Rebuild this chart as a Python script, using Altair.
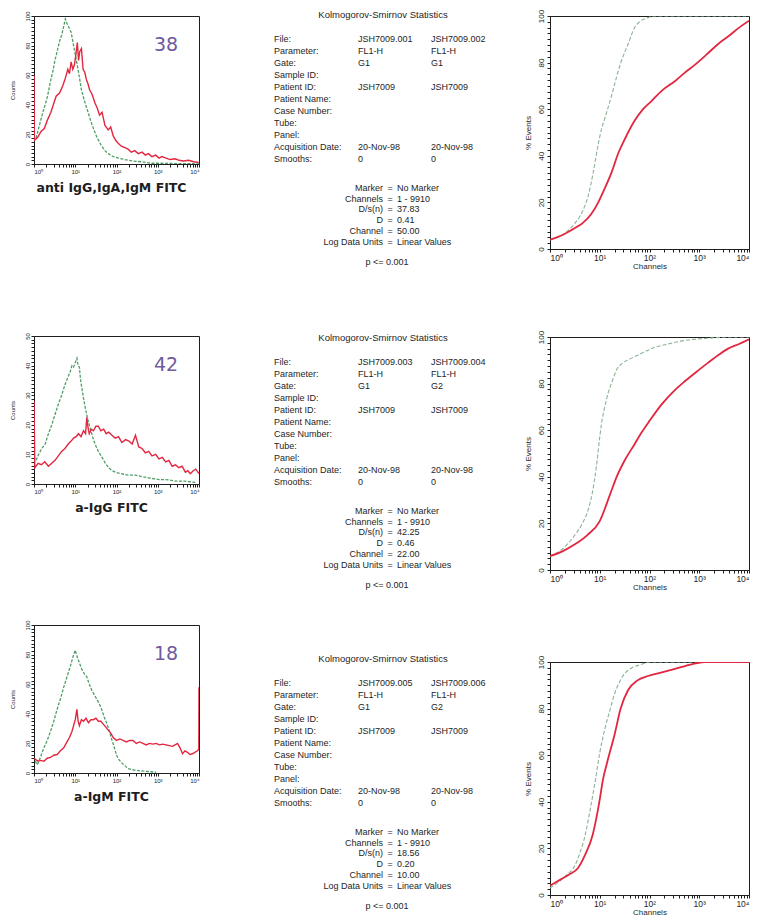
import altair as alt
import pandas as pd

# ---------------- text content ----------------
hist_titles = ["anti IgG,IgA,IgM FITC", "a-IgG FITC", "a-IgM FITC"]
hist_ymax = [100, 50, 100]
ks_percent = ["38", "42", "18"]

file_a = ["JSH7009.001", "JSH7009.003", "JSH7009.005"]
file_b = ["JSH7009.002", "JSH7009.004", "JSH7009.006"]
param_a = ["FL1-H", "FL1-H", "FL1-H"]
param_b = ["FL1-H", "FL1-H", "FL1-H"]
gate_a = ["G1", "G1", "G1"]
gate_b = ["G1", "G2", "G2"]
patient_id = ["JSH7009", "JSH7009", "JSH7009"]
acq_date = ["20-Nov-98", "20-Nov-98", "20-Nov-98"]
smooths = ["0", "0", "0"]
dsn_vals = ["37.83", "42.25", "18.56"]
d_vals = ["0.41", "0.46", "0.20"]
chan_vals = ["50.00", "22.00", "10.00"]
p_text = "p <= 0.001"
ks_title = "Kolmogorov-Smirnov Statistics"
upper_labels = ["File:", "Parameter:", "Gate:", "Sample ID:", "Patient ID:", "Patient Name:",
                "Case Number:", "Tube:", "Panel:", "Acquisition Date:", "Smooths:"]
lower_labels = ["Marker", "Channels", "D/s(n)", "D", "Channel", "Log Data Units"]

# ---------------- histogram data (x: log10 channel, y: counts) ----------------
h1_green_d = [0.05, 0.13, 0.21, 0.27, 0.33, 0.40, 0.46, 0.50, 0.56, 0.62, 0.67, 0.72, 0.76, 0.80, 0.85,
              0.90, 0.96, 1.02, 1.08, 1.15, 1.22, 1.31, 1.40, 1.51, 1.62, 1.72, 1.80, 1.92, 2.05, 2.2,
              2.4, 2.6, 2.85, 3.1, 3.4, 3.7, 4.0]
h1_green_c = [17.5, 26, 34.5, 40, 46, 56, 63, 69, 76, 83, 87, 93, 98, 95, 92,
              89, 80, 71, 62, 50, 43, 35, 27, 19, 13, 9, 7, 5, 4, 3,
              2, 1.5, 0.5, 0.5, 0.3, 0.2, 0.1]
h1_red_d = [0, 0.01, 0.09, 0.17, 0.25, 0.33, 0.41, 0.48, 0.54, 0.62, 0.70, 0.76, 0.82, 0.86, 0.90,
            0.94, 0.98, 1.02, 1.05, 1.08, 1.11, 1.15, 1.19, 1.23, 1.27, 1.31, 1.35, 1.41, 1.48, 1.53,
            1.59, 1.65, 1.72, 1.80, 1.86, 1.92, 1.98, 2.04, 2.12, 2.2, 2.28, 2.36, 2.44, 2.53, 2.62,
            2.7, 2.77, 2.86, 2.95, 3.03, 3.1, 3.2, 3.3, 3.42, 3.52, 3.62, 3.75, 3.87, 3.99]
h1_red_c = [60, 16, 18, 22, 24, 30, 35, 41, 46, 48, 53, 58, 64, 61, 69,
            64, 67, 75, 82, 70, 76, 78, 64, 62, 57, 54, 50, 47, 41, 38,
            33, 35, 26, 23, 25, 19, 16, 14, 12, 11, 10, 8, 9, 7, 8,
            6, 7, 5, 6, 4, 5, 4, 3, 3.5, 2.5, 2, 2.5, 1.5, 1]

h2_green_d = [0.05, 0.11, 0.19, 0.27, 0.35, 0.43, 0.51, 0.59, 0.67, 0.75, 0.82, 0.88, 0.92, 0.96, 1.0,
              1.04, 1.07, 1.1, 1.13, 1.16, 1.2, 1.24, 1.3, 1.36, 1.42, 1.48, 1.56, 1.65, 1.73, 1.81,
              1.89, 1.97, 2.1, 2.3, 2.45, 2.62, 2.8, 3.03, 3.2, 3.43, 3.65, 3.92]
h2_green_c = [8, 10, 12, 13.5, 17, 20, 23.5, 27, 30, 33.5, 36, 38, 40, 39.5, 41,
              42.5, 40, 39.5, 35, 32.5, 29, 26, 22, 19, 16, 13.5, 11, 9, 7, 5.5,
              4.5, 4, 3.5, 3, 3, 2.5, 2, 1.5, 1.5, 1, 1, 0.5]
h2_red_d = [0, 0.02, 0.1, 0.18, 0.26, 0.35, 0.43, 0.51, 0.59, 0.67, 0.75, 0.83, 0.9, 0.96, 1.02,
            1.08, 1.14, 1.2, 1.25, 1.28, 1.31, 1.34, 1.39, 1.44, 1.5, 1.56, 1.62, 1.69, 1.75, 1.81,
            1.89, 1.97, 2.05, 2.13, 2.22, 2.3, 2.38, 2.46, 2.54, 2.62, 2.7, 2.78, 2.86, 2.95, 3.03,
            3.11, 3.19, 3.27, 3.35, 3.43, 3.51, 3.59, 3.67, 3.73, 3.79, 3.86, 3.92, 4.0]
h2_red_c = [28, 5.5, 7, 6.5, 7.5, 6, 7, 8, 9.5, 11, 12, 13.5, 14.5, 15.5, 16,
            17, 16, 18, 17, 22.5, 19, 17, 18.5, 18, 19.5, 19.5, 18, 18.5, 17, 17.5,
            16.5, 15.5, 16, 14, 15, 14.5, 13.5, 16.5, 12.5, 12, 10.5, 11, 9.5, 10, 8.5,
            9, 7.5, 8, 6, 6.5, 5.5, 6, 4, 4.5, 3.5, 4.5, 5, 3.5]

h3_green_d = [0.03, 0.08, 0.16, 0.24, 0.32, 0.4, 0.48, 0.56, 0.64, 0.72, 0.8, 0.88, 0.94, 1.0, 1.04,
              1.08, 1.12, 1.16, 1.22, 1.28, 1.34, 1.4, 1.46, 1.52, 1.58, 1.64, 1.7, 1.76, 1.82, 1.88,
              1.94, 2.0, 2.06, 2.12, 2.2, 2.28, 2.42, 2.56, 2.76, 2.96]
h3_green_c = [8, 5.5, 11, 17, 22, 28, 35, 43, 50, 58, 65, 72, 78, 83, 79,
              76, 73, 70, 67, 65, 60, 56, 53, 50, 47, 43, 38, 34, 29, 23,
              18, 12, 9, 7, 5, 3, 2, 1.5, 1, 0.5]
h3_red_d = [0.01, 0.04, 0.1, 0.16, 0.24, 0.32, 0.4, 0.48, 0.56, 0.64, 0.72, 0.8, 0.86, 0.92, 0.97,
            1.0, 1.04, 1.07, 1.1, 1.15, 1.2, 1.26, 1.32, 1.38, 1.44, 1.5, 1.56, 1.62, 1.68, 1.74,
            1.8, 1.86, 1.92, 2.0, 2.08, 2.16, 2.24, 2.32, 2.4, 2.48, 2.56, 2.64, 2.72, 2.8, 2.88,
            2.96, 3.04, 3.12, 3.2, 3.28, 3.36, 3.42, 3.48, 3.54, 3.6, 3.66, 3.72, 3.78, 3.84, 3.9,
            3.96, 3.995, 4.0]
h3_red_c = [10, 9, 8, 8.5, 8, 10, 10.5, 12, 12.5, 15, 17, 21, 24, 28, 33,
            36, 43, 35, 32, 36, 35, 37, 34, 36, 36, 37, 35, 35, 33, 31,
            29, 27, 24, 22, 23, 22, 21, 22, 22, 20, 21, 20, 19, 20, 19.5,
            20, 19, 19.5, 19, 18.5, 18, 19, 20, 17, 13, 15, 14, 12.5, 13, 14,
            15, 16, 58]

# ---------------- cumulative data (x: log10 channel, y: % events) ----------------
c1_green_d = [0, 0.25, 0.5, 0.65, 0.77, 0.87, 0.97, 1.03, 1.1, 1.24, 1.34, 1.44, 1.57, 1.7, 1.8, 1.97, 2.1, 4.0]
c1_green_p = [4, 6, 11, 16, 23, 33, 45, 51, 56, 66, 74, 81, 88, 95, 97.5, 99.3, 100, 100]
c1_red_d = [0, 0.25, 0.5, 0.65, 0.83, 0.97, 1.1, 1.24, 1.37, 1.5, 1.7, 1.87, 2.04, 2.25, 2.51, 2.7,
            2.91, 3.15, 3.38, 3.6, 3.8, 4.0]
c1_red_p = [4, 6, 9, 11, 15, 20, 26, 33, 41, 47, 55, 60, 63.5, 68, 72, 75.5, 79, 83.5, 88, 91.5, 95, 98]

c2_green_d = [0, 0.25, 0.5, 0.65, 0.77, 0.85, 0.93, 1.0, 1.03, 1.1, 1.17, 1.25, 1.34, 1.44, 1.6, 1.84,
              2.1, 2.37, 2.77, 3.2, 3.6, 4.0]
c2_green_p = [6, 9, 15, 20, 26, 33, 44, 57, 62, 70, 76, 81, 86, 88.5, 90.5, 93, 95.5, 97, 98.7, 99.5, 100, 100]
c2_red_d = [0, 0.25, 0.5, 0.75, 1.0, 1.2, 1.34, 1.5, 1.7, 1.84, 2.0, 2.24, 2.5, 2.71, 3.0, 3.18, 3.4,
            3.58, 3.8, 4.0]
c2_red_p = [6, 8, 11, 15, 21, 32, 40, 47, 54, 59, 64, 71, 77, 81, 86, 89, 92.5, 95, 97, 99]

c3_green_d = [0, 0.2, 0.35, 0.47, 0.6, 0.71, 0.81, 0.91, 1.0, 1.1, 1.2, 1.3, 1.4, 1.5, 1.65, 1.84, 2.0, 4.0]
c3_green_p = [3, 6, 9, 11.5, 18, 26, 37, 49, 61, 71, 79, 86.5, 91.5, 95, 97.5, 99, 100, 100]
c3_red_d = [0, 0.2, 0.4, 0.56, 0.7, 0.86, 0.95, 1.0, 1.06, 1.15, 1.3, 1.42, 1.57, 1.75, 1.97, 2.25,
            2.51, 2.84, 3.1, 4.0]
c3_red_p = [4, 6.5, 9, 11.5, 17, 26, 35, 41, 49, 57, 69, 80, 88, 92, 94, 95.5, 97, 99, 100, 100]

# ---------------- styling ----------------
FONT = "Liberation Sans"
INK = "#1e1e1e"
GREEN_H = "#4f9d66"
GREEN_C = "#8db395"
RED = "#e3263f"
PURPLE = "#6e5a9e"

log_ticks = [m * 10 ** k for k in range(4) for m in range(1, 10)] + [10000]
sup_expr = ("datum.value == 1 ? '10\u2070' : datum.value == 10 ? '10\u00b9' : "
            "datum.value == 100 ? '10\u00b2' : datum.value == 1000 ? '10\u00b3' : "
            "datum.value == 10000 ? '10\u2074' : ''")


def series(d, v):
    return pd.DataFrame({"ch": [10 ** x for x in d], "v": v})


def x_axis(title, label_size, title_font, title_size, title_weight, extent, tpad, title_x=None):
    extra = {} if title_x is None else {"titleX": title_x}
    return alt.X("ch:Q", scale=alt.Scale(type="log", domain=[1, 10000], nice=False),
                 axis=alt.Axis(values=log_ticks, labelExpr=sup_expr, labelOverlap=False,
                               labelFont=FONT, labelFontSize=label_size, labelColor=INK,
                               labelPadding=1, tickSize=3, tickColor=INK, domainColor=INK,
                               grid=False, title=title, titleFont=title_font,
                               titleFontSize=title_size, titleFontWeight=title_weight,
                               titleColor=INK, titlePadding=tpad,
                               minExtent=extent, maxExtent=extent, **extra))


def y_axis(ymax, title, label_size, title_size, extent, tpad, lpad):
    step = ymax / 40
    lab_step = ymax / 5
    return alt.Y("v:Q", scale=alt.Scale(domain=[0, ymax], nice=False),
                 axis=alt.Axis(values=[step * k for k in range(41)],
                               labelExpr=f"datum.value % {lab_step} == 0 ? datum.label : ''",
                               labelOverlap=False, labelAngle=270, labelAlign="center",
                               labelBaseline="bottom", labelFont=FONT, labelFontSize=label_size,
                               labelColor=INK, labelPadding=lpad, tickSize=3, tickColor=INK,
                               domainColor=INK, grid=False, title=title, titleFont=FONT,
                               titleFontSize=title_size, titleFontWeight="normal",
                               titleColor=INK, titlePadding=tpad,
                               minExtent=extent, maxExtent=extent))


def hist_panel(i, gd, gc, rd, rc):
    xe = x_axis(hist_titles[i], 6, "DejaVu Sans", 12.5, "bold", 11, 6, title_x=77)
    ye = y_axis(hist_ymax[i], "Counts", 6, 6, 14, 5, 1)
    green = alt.Chart(series(gd, gc)).mark_line(
        color=GREEN_H, strokeWidth=1.3, strokeDash=[3, 1.5], clip=True).encode(x=xe, y=ye)
    red = alt.Chart(series(rd, rc)).mark_line(
        color=RED, strokeWidth=1.4, clip=True).encode(x=xe, y=ye)
    num = alt.Chart(pd.DataFrame({"t": [ks_percent[i]]})).mark_text(
        font="DejaVu Sans", fontSize=19, color=PURPLE).encode(
        x=alt.value(132), y=alt.value(29), text="t:N")
    return alt.layer(green, red, num).properties(width=165, height=148)


def cdf_panel(gd, gp, rd, rp):
    xe = x_axis("Channels", 8.5, FONT, 8, "normal", 12, 1)
    ye = y_axis(100, "% Events", 8, 8, 15, 3, 2)
    green = alt.Chart(series(gd, gp)).mark_line(
        color=GREEN_C, strokeWidth=1.1, strokeDash=[4, 2], clip=True,
        interpolate="monotone").encode(x=xe, y=ye)
    red = alt.Chart(series(rd, rp)).mark_line(
        color=RED, strokeWidth=1.8, clip=True, interpolate="monotone").encode(x=xe, y=ye)
    return alt.layer(green, red).properties(width=199, height=233)


TEXT_H = 250
LINE_PX = 12.0
TOP_UNIT = 1 / LINE_PX  # title sits 1px above the block's top edge


def text_panel(k):
    ye = alt.Y("line:Q", scale=alt.Scale(domain=[TOP_UNIT, TOP_UNIT + TEXT_H / LINE_PX],
                                         reverse=True, nice=False), axis=None)
    upper = pd.DataFrame({
        "line": [2 + j for j in range(len(upper_labels))],
        "lab": upper_labels,
        "v1": [file_a[k], param_a[k], gate_a[k], "", patient_id[k], "", "", "", "", acq_date[k], smooths[k]],
        "v2": [file_b[k], param_b[k], gate_b[k], "", patient_id[k], "", "", "", "", acq_date[k], smooths[k]],
    })
    lower = pd.DataFrame({
        "line": [14.4 + 0.9 * j for j in range(len(lower_labels))],
        "lab": lower_labels,
        "val": ["No Marker", "1 - 9910", dsn_vals[k], d_vals[k], chan_vals[k], "Linear Values"],
    })
    head = pd.DataFrame({"line": [0], "t": [ks_title]})
    foot = pd.DataFrame({"line": [14.4 + 0.9 * 5 + 1.65], "t": [p_text]})
    style = dict(font=FONT, fontSize=9, color=INK, baseline="middle")
    layers = [
        alt.Chart(upper).mark_text(align="left", **style).encode(x=alt.value(6), y=ye, text="lab:N"),
        alt.Chart(upper).mark_text(align="left", **style).encode(x=alt.value(90), y=ye, text="v1:N"),
        alt.Chart(upper).mark_text(align="left", **style).encode(x=alt.value(163), y=ye, text="v2:N"),
        alt.Chart(lower).mark_text(align="right", **style).encode(x=alt.value(115), y=ye, text="lab:N"),
        alt.Chart(lower).mark_text(align="center", text="=", **style).encode(x=alt.value(122), y=ye),
        alt.Chart(lower).mark_text(align="left", **style).encode(x=alt.value(129), y=ye, text="val:N"),
        alt.Chart(head).mark_text(align="center", font=FONT, fontSize=9.5, color=INK,
                                  baseline="middle").encode(x=alt.value(115), y=ye, text="t:N"),
        alt.Chart(foot).mark_text(align="center", **style).encode(x=alt.value(119), y=ye, text="t:N"),
    ]
    return alt.layer(*layers).properties(width=240, height=TEXT_H,
                                         view=alt.ViewBackground(strokeOpacity=0))


h1 = hist_panel(0, h1_green_d, h1_green_c, h1_red_d, h1_red_c)
h2 = hist_panel(1, h2_green_d, h2_green_c, h2_red_d, h2_red_c)
h3 = hist_panel(2, h3_green_d, h3_green_c, h3_red_d, h3_red_c)
c1 = cdf_panel(c1_green_d, c1_green_p, c1_red_d, c1_red_p)
c2 = cdf_panel(c2_green_d, c2_green_p, c2_red_d, c2_red_p)
c3 = cdf_panel(c3_green_d, c3_green_p, c3_red_d, c3_red_p)
t1, t2, t3 = text_panel(0), text_panel(1), text_panel(2)

col1 = alt.vconcat(alt.vconcat(h1, h2, spacing=138), h3, spacing=105)
col2 = alt.vconcat(alt.vconcat(t1, t2, spacing=66), t3, spacing=64)
col3 = alt.vconcat(alt.vconcat(c1, c2, spacing=58), c3, spacing=62)

chart = alt.hconcat(alt.hconcat(col1, col2, spacing=68), col3, spacing=15).properties(
    padding=0
).configure_view(stroke=INK, strokeWidth=1)

chart.save("out.html", embed_options={"renderer": "svg", "actions": False})
